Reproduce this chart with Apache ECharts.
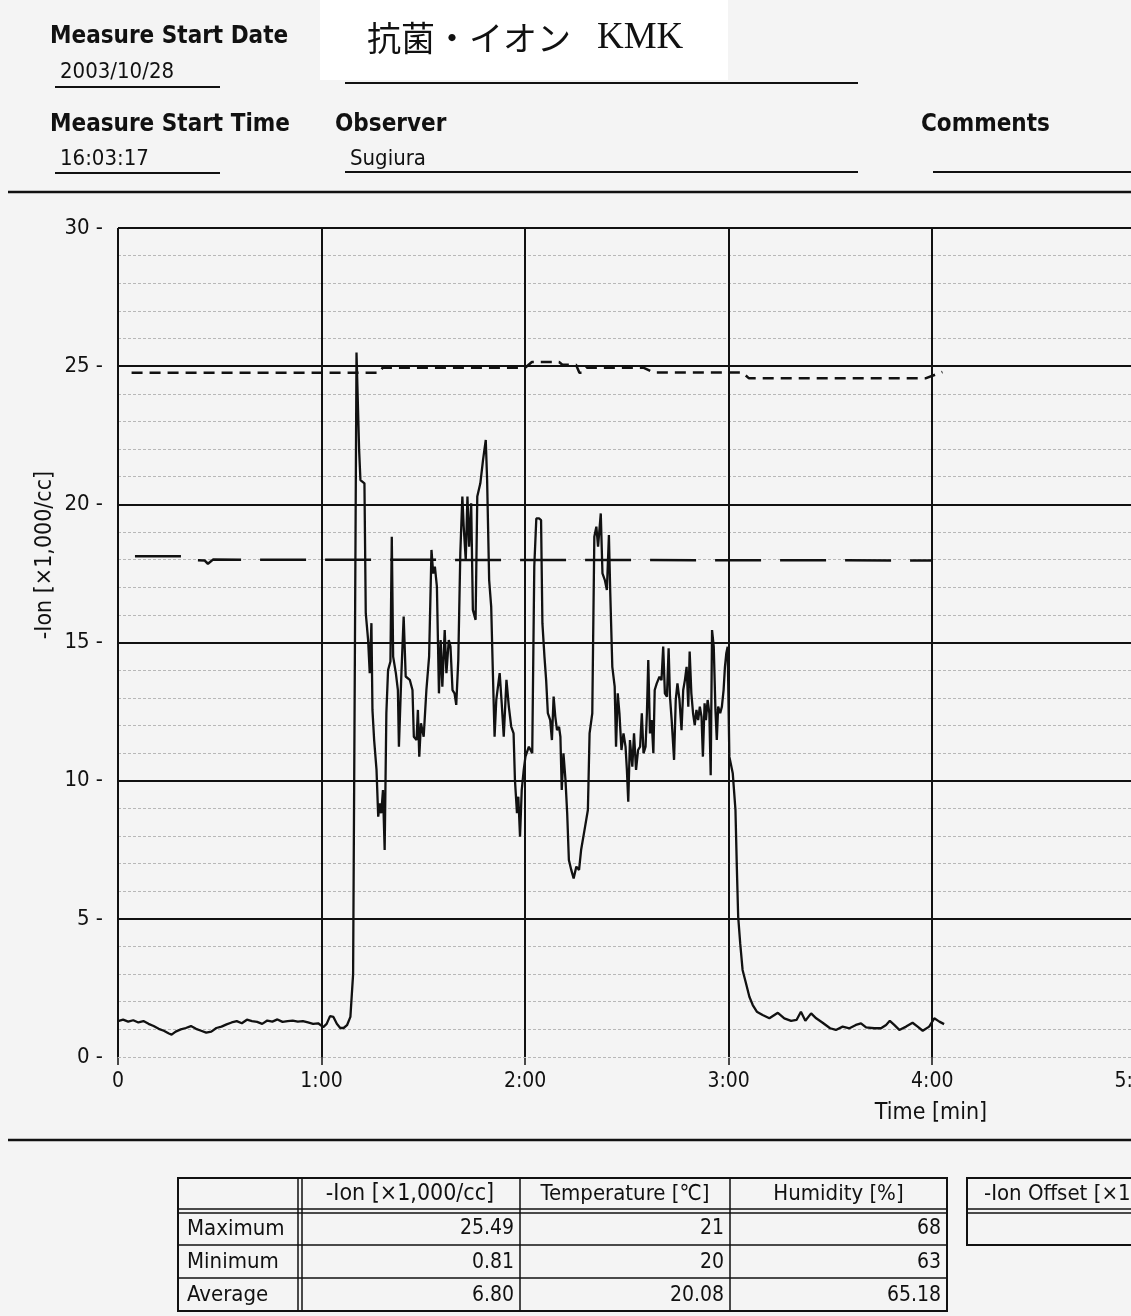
<!DOCTYPE html>
<html><head><meta charset="utf-8">
<script src="https://cdn.jsdelivr.net/npm/echarts@6/dist/echarts.min.js"></script>
<style>html,body{margin:0;padding:0;overflow:hidden;background:#f4f4f4;width:1131px;height:1316px}#c{width:1160px;height:1316px}</style>
</head><body><div id="c"></div><script>
// ---- data (time in seconds, ion in x1,000/cc) ----
const ionTime = [0,1.5,3,4.5,6,7.5,9,10.5,12,13.5,15,15.8,17,18.5,20,21.5,23,24.5,26,27.5,29,30.5,32,33.5,35,36.5,38,39.5,41,42.5,44,45.5,47,48.5,50,51.5,53,54.5,56,57.5,59,60.5,61.5,62.5,63.5,64.5,65.5,66.5,67.5,68.5,69.3,69.8,70.3,
71.07,71.46,72.64,73.03,73.72,74.2,74.7,75.0,75.5,76.2,76.7,77.2,77.6,78.1,78.6,79.1,79.6,80.3,80.7,81.1,81.9,82.5,82.8,83.5,84.2,84.8,86.0,86.8,87.2,88.0,88.4,88.8,89.3,90.1,90.9,91.7,92.4,92.9,93.4,94.0,94.6,95.1,95.6,96.3,96.8,97.5,98.0,98.6,99.2,99.7,100.3,100.9,101.5,101.9,102.5,103.0,103.5,104.1,104.6,105.4,105.9,106.8,107.6,108.4,108.8,109.4,110.0,110.5,111.0,111.5,112.5,113.1,113.7,114.5,115.2,115.9,116.6,117.0,117.6,118.0,118.5,
119.0,119.6,120.1,121.1,122.1,122.7,123.3,124.1,124.7,125.1,125.7,126.2,126.7,127.4,127.9,128.4,128.9,129.4,130.0,130.4,130.8,131.3,131.9,132.4,132.9,133.6,134.3,135.1,135.9,136.5,137.5,138.5,139.0,139.8,140.4,141.0,141.5,142.3,142.8,143.5,144.1,144.7,145.1,145.7,146.4,146.8,147.3,147.8,148.4,149.0,149.6,150.0,150.4,150.9,151.6,152.1,152.7,153.3,153.9,154.4,154.9,155.5,155.9,156.3,156.8,157.3,157.8,158.2,158.8,159.6,160.2,160.7,161.2,161.8,162.3,162.7,163.2,163.9,164.4,164.9,165.5,166.1,166.6,167.1,167.6,168.1,168.5,169.0,169.5,170.0,170.5,171.0,171.5,172.0,172.4,172.9,173.3,173.8,174.3,174.7,175.1,175.6,176.1,176.5,176.9,177.5,178.0,178.5,178.9,179.3,179.7,180.2,
180.4,181.2,182.0,182.4,182.8,183.4,184.1,185.1,186.1,187.1,188.3,190.0,192.0,194.5,196.4,198.4,200.0,201.3,202.6,204.3,205.8,207.7,209.9,211.6,213.6,215.6,217.5,219.0,220.5,222.9,224.9,226.4,227.5,228.8,230.3,232.3,234.2,235.7,237.2,239.1,240.6,242.1,243.5];
const ionValue = [1.30,1.35,1.28,1.33,1.25,1.30,1.20,1.12,1.02,0.95,0.85,0.81,0.92,1.00,1.05,1.12,1.02,0.95,0.88,0.92,1.05,1.10,1.18,1.25,1.30,1.22,1.35,1.30,1.27,1.20,1.32,1.28,1.36,1.27,1.30,1.32,1.28,1.30,1.25,1.20,1.22,1.08,1.20,1.48,1.45,1.20,1.05,1.05,1.15,1.45,3.0,14.0,25.49,
21.97,20.88,20.76,16.06,15.09,13.89,15.7,12.56,11.47,10.39,8.70,9.18,8.82,9.66,7.49,12.44,14.0,14.31,18.83,14.49,13.89,13.28,11.23,13.77,15.94,13.77,13.65,13.28,11.59,11.47,12.56,10.87,12.08,11.59,13.28,14.49,18.35,17.5,17.75,17.02,13.16,15.09,13.4,15.45,13.89,15.09,14.85,13.28,13.16,12.74,14.37,18.23,20.28,19.19,17.99,20.28,18.47,20.04,16.18,15.82,20.28,20.76,21.61,22.33,20.88,17.26,16.3,13.89,11.59,12.92,13.89,12.8,11.59,13.65,12.68,11.96,11.71,10.03,8.82,9.42,7.97,
9.66,10.4,10.87,11.23,10.99,17.74,19.49,19.49,19.43,15.69,14.49,13.64,12.44,12.19,11.47,13.04,12.31,11.83,11.95,11.59,9.66,10.99,10.02,8.82,7.13,6.77,6.46,6.89,6.77,7.49,8.21,8.94,11.71,12.44,18.83,19.19,18.47,19.67,17.5,17.26,16.9,18.89,16.78,14.12,13.4,11.23,13.16,12.44,11.11,11.71,11.23,10.39,9.24,11.47,10.51,11.71,10.39,11.11,11.23,12.44,10.99,11.23,12.44,14.37,11.71,12.19,10.99,13.28,13.52,13.76,13.64,14.85,13.16,13.04,14.79,13.04,12.19,10.75,12.92,13.52,12.92,11.83,13.28,13.64,14.12,12.68,14.67,13.16,12.44,12.01,12.56,12.19,12.68,12.31,10.87,12.8,12.19,12.92,12.44,10.2,15.45,14.85,12.56,11.47,12.68,12.44,12.68,13.28,14.12,14.61,14.85,10.87,
10.87,10.27,8.94,6.89,5.08,4.11,3.15,2.67,2.18,1.88,1.64,1.52,1.40,1.60,1.40,1.31,1.34,1.64,1.31,1.58,1.40,1.24,1.04,0.98,1.10,1.04,1.16,1.22,1.07,1.04,1.04,1.16,1.31,1.16,0.98,1.10,1.24,1.10,0.95,1.10,1.40,1.28,1.19];
// humidity / temperature traces as plotted on the chart (chart units)
const humidTime  = [4,77,78,120,122,130,131,135,136,137,138,155,158,184,186,238,243];
const humidTrace = [24.76,24.76,24.94,24.94,25.15,25.15,25.05,25.05,24.76,24.76,24.94,24.94,24.77,24.77,24.56,24.56,24.79];
const tempTime  = [5,19.5,20,25.5,26.5,28,240];
const tempTrace = [18.12,18.12,18.0,17.97,17.85,18.0,17.97];
// table
const tableColumns = ['-Ion [×1,000/cc]','Temperature [℃]','Humidity [%]'];
const tableRows = ['Maximum','Minimum','Average'];
const ionStats = ['25.49','0.81','6.80'];
const tempStats = ['21','20','20.08'];
const humidStats = ['68','63','65.18'];
const offsetHeader = '-Ion Offset [×1,000/cc]';
// header
const headerTitle = '抗菌・イオン';
const headerTitle2 = 'KMK';
const startDate = '2003/10/28';
const startTime = '16:03:17';
const observer = 'Sugiura';

const NARROW = "'Liberation Sans Narrow','DejaVu Sans Condensed','Liberation Sans',sans-serif";
const ink = '#111';

function txt(x, y, text, font, align, extra) {
  return Object.assign({type:'text', silent:true, style:{x, y, text, font, fill:ink,
    textAlign:align||'left', align:align||'left', textVerticalAlign:'middle', verticalAlign:'middle'}}, extra||{});
}
function ln(x1, y1, x2, y2, w) {
  return {type:'line', silent:true, shape:{x1,y1,x2,y2}, style:{stroke:ink, lineWidth:w||2}};
}
const g = [];
g.push({type:'rect', silent:true, shape:{x:320,y:0,width:408,height:80}, style:{fill:'#ffffff'}});
g.push(txt(367, 38, headerTitle, "34px 'Noto Sans CJK JP'"));
g.push(txt(597, 38, headerTitle2, "37px 'Liberation Serif','DejaVu Serif',serif"));
g.push(txt(50, 37, 'Measure Start Date', "bold 24px " + NARROW));
g.push(txt(60, 72, startDate, "22px " + NARROW));
g.push(ln(55, 87, 220, 87, 2));
g.push(ln(345, 83, 858, 83, 2));
g.push(txt(50, 125, 'Measure Start Time', "bold 24px " + NARROW));
g.push(txt(60, 159, startTime, "22px " + NARROW));
g.push(ln(55, 173, 220, 173, 2));
g.push(txt(335, 125, 'Observer', "bold 24px " + NARROW));
g.push(txt(350, 159, observer, "22px " + NARROW));
g.push(ln(345, 172, 858, 172, 2));
g.push(txt(921, 125, 'Comments', "bold 24px " + NARROW));
g.push(ln(933, 172, 1131, 172, 2));
g.push(ln(8, 192, 1131, 192, 2.5));
g.push(ln(8, 1140, 1131, 1140, 2.5));
// axis names
g.push(Object.assign(txt(0, 0, '-Ion [×1,000/cc]', "23px " + NARROW, 'center'), {x:45, y:555, rotation: Math.PI/2}));
g.push(txt(931, 1113, 'Time [min]', "23px " + NARROW, 'center'));
// table
const colX = [178, 300, 520, 730, 947];
const rowY = [1178, 1211, 1245, 1278, 1311];
g.push({type:'rect', silent:true, shape:{x:colX[0],y:rowY[0],width:colX[4]-colX[0],height:rowY[4]-rowY[0]}, style:{fill:'none',stroke:ink,lineWidth:2}});
g.push(ln(colX[0], rowY[1]-2, colX[4], rowY[1]-2, 1.5));
g.push(ln(colX[0], rowY[1]+2, colX[4], rowY[1]+2, 1.5));
g.push(ln(colX[0], rowY[2], colX[4], rowY[2], 1.5));
g.push(ln(colX[0], rowY[3], colX[4], rowY[3], 1.5));
g.push(ln(colX[1]-2, rowY[0], colX[1]-2, rowY[4], 1.5));
g.push(ln(colX[1]+2, rowY[0], colX[1]+2, rowY[4], 1.5));
g.push(ln(colX[2], rowY[0], colX[2], rowY[4], 1.5));
g.push(ln(colX[3], rowY[0], colX[3], rowY[4], 1.5));
const TF = "22px " + NARROW;
const TV = "21px " + NARROW;
tableColumns.forEach((c,i)=>g.push(txt((colX[i+1]+colX[i+2])/2, (rowY[0]+rowY[1])/2, c, i===0 ? "23px " + NARROW : TF, 'center')));
const stats = [ionStats, tempStats, humidStats];
tableRows.forEach((r,j)=>{
  const cy = (rowY[j+1]+rowY[j+2])/2 + 1;
  g.push(txt(colX[0]+9, cy, r, TF));
  stats.forEach((s,i)=>g.push(txt(colX[i+2]-6, cy, s[j], TV, 'right')));
});
g.push({type:'rect', silent:true, shape:{x:967,y:rowY[0],width:200,height:rowY[2]-rowY[0]}, style:{fill:'none',stroke:ink,lineWidth:2}});
g.push(ln(967, rowY[1]-2, 1160, rowY[1]-2, 1.5));
g.push(ln(967, rowY[1]+2, 1160, rowY[1]+2, 1.5));
g.push(txt(984, (rowY[0]+rowY[1])/2, offsetHeader, TF));

const zip = (a,b)=>a.map((t,i)=>[t,b[i]]);
const chart = echarts.init(document.getElementById('c'));
chart.setOption({
  animation:false,
  backgroundColor:'#f4f4f4',
  grid:{left:118, top:228, right:23, height:829},
  xAxis:{type:'value', min:0, max:300, interval:60,
    axisLine:{show:false},
    axisTick:{show:true, length:8, lineStyle:{color:ink, width:1.5}},
    axisLabel:{margin:14, fontSize:21, color:ink, fontFamily:NARROW,
      formatter:v=> v===0 ? '0' : Math.floor(v/60)+':'+String(v%60).padStart(2,'0')},
    splitLine:{show:true, lineStyle:{color:ink, width:2}}},
  yAxis:{type:'value', min:0, max:30, interval:5,
    axisLine:{show:false}, axisTick:{show:false},
    axisLabel:{margin:15, fontSize:22, color:ink, fontFamily:NARROW, formatter:v=>v+' -'},
    splitLine:{show:true, showMinLine:false, lineStyle:{color:ink, width:2}},
    minorTick:{show:false, splitNumber:5},
    minorSplitLine:{show:true, lineStyle:{color:'#b8b8b8', width:1, type:[3,2]}}},
  series:[
    {name:'Humidity', type:'line', data:zip(humidTime, humidTrace), symbol:'none', silent:true,
      lineStyle:{color:ink, width:2.5, type:[11,7]}},
    {name:'Temperature', type:'line', data:zip(tempTime, tempTrace), symbol:'none', silent:true,
      lineStyle:{color:ink, width:2.5, type:[46,19]}},
    {name:'-Ion', type:'line', data:zip(ionTime, ionValue), symbol:'none', silent:true,
      lineStyle:{color:ink, width:2.3},
      markLine:{silent:true, symbol:['none','none'], label:{show:false},
        lineStyle:{color:'#b8b8b8', width:1, type:[3,2]}, data:[{yAxis:0}]}}
  ],
  graphic:g
});
</script></body></html>
